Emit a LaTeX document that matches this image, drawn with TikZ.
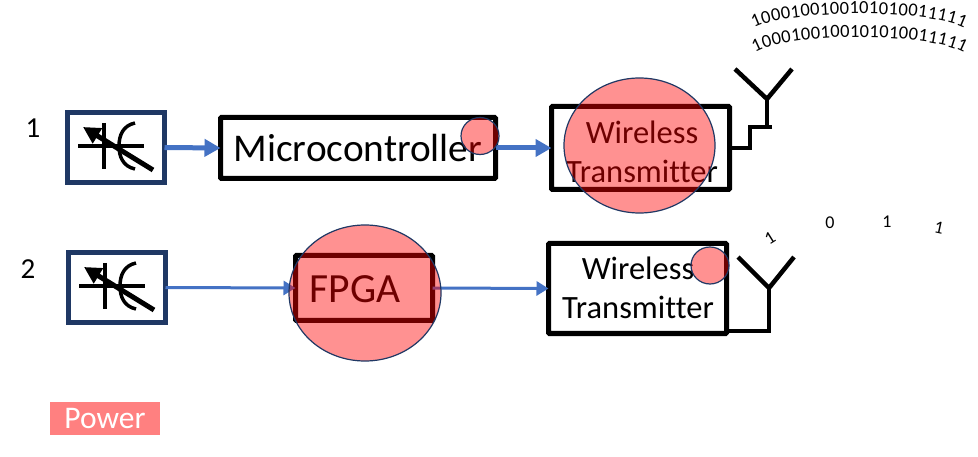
\documentclass[tikz,border=0pt]{standalone}
\usepackage{fontspec}
\setmainfont[Ligatures=NoCommon]{Carlito}
\usetikzlibrary{arrows.meta,decorations.text,shapes.geometric}
\definecolor{navybox}{HTML}{1F3864}
\definecolor{bluearrow}{HTML}{4472C4}
\definecolor{circleedge}{HTML}{203864}
\definecolor{powerred}{HTML}{FF8080}
\newcommand{\fs}[1]{\fontsize{#1}{#1}\selectfont}
\tikzset{
  x=1pt,y=-1pt,
  blockbox/.style={draw=black,line width=5pt,rounded corners=1pt,outer sep=0pt,inner sep=0pt,align=center},
  capbox/.style={draw=navybox,line width=5pt,fill=white,outer sep=0pt,inner sep=0pt,minimum width=97pt,minimum height=70pt},
  thickflow/.style={draw=bluearrow,line width=5pt,-{Triangle[length=16pt,width=17pt]}},
  thinflow/.style={draw=bluearrow,line width=3pt,-{Triangle[length=12pt,width=14pt]}},
  wirepath/.style={draw=black,line width=4.5pt,line join=miter},
  powerblob/.style={draw=circleedge,line width=1.2pt,fill=red,fill opacity=0.43,draw opacity=1,ellipse,inner sep=0pt},
  varcap/.pic={
    \draw[line width=3.5pt] (-38,-1.5) -- (28,-1.5);
    \draw[line width=3.5pt] (-12,-24.5) -- (-12,21.5);
    \draw[line width=3.5pt] (19,-24.5) .. controls (7,-22) and (3,-12) .. (3,-1.5) .. controls (3,9) and (7,19) .. (19,21.5);
    \draw[line width=5pt,-{Triangle[length=17pt,width=17pt]}] (37,22.5) -- (-33,-20.5);
  },
  bits/.style={decorate,decoration={text along path,text align={fit to path},text={|\fs{18.5}|#1}}},
  wtlabel/.style={align=center,font=\fs{32.5}},
}
\begin{document}
\begin{tikzpicture}
\useasboundingbox (0,0) rectangle (978,457);
\fill[white] (0,0) rectangle (978,457);

% row labels
\node (n1) at (33,128) {\fs{29}1};
\node (n2) at (28,269) {\fs{29}2};

% sources
\node[capbox] (cap1) at (116,147.5) {};
\node[capbox] (cap2) at (117,287.5) {};
\pic at (cap1.center) {varcap};
\pic at (cap2.center) {varcap};

% blocks
\node[blockbox,minimum width=275pt,minimum height=61pt] (mc) at (358,148) {};
\node (mctext) at (358,148) {\fs{39.3}Microcontroller};
\node[blockbox,minimum width=178pt,minimum height=83pt] (wt1) at (640.5,148) {};
\node[wtlabel] (wt1text) at (642,152) {Wireless\\[6.5pt]Transmitter};
\node[blockbox,minimum width=137pt,minimum height=65pt] (fpga) at (364,288) {};
\node (fpgatext) at (355,289) {\fs{41.5}FPGA};
\node[blockbox,minimum width=178pt,minimum height=90pt] (wt2) at (637.5,288.5) {};
\node[wtlabel] (wt2text) at (638,288) {Wireless\\[6.5pt]Transmitter};

% flows
\draw[thickflow] (cap1.east) -- (mc.west);
\draw[thickflow] (mc.east) -- (wt1.west);
\draw[thinflow] (cap2.east) -- (fpga.west);
\draw[thinflow] (fpga.east) -- (wt2.west);

% antennas
\coordinate (a1) at (767,99);
\coordinate (a1l) at (735,69);
\coordinate (a1r) at (792,69);
\coordinate (s1) at (772,127);
\coordinate (s2) at (750,127);
\coordinate (s3) at (750,148);
\draw[wirepath] (a1l) -- (a1) -- (a1r);
\draw[wirepath] (a1) -- (767,127);
\draw[wirepath] (s1) -- (s2) -- (s3) -- (wt1.east);
\coordinate (a2) at (769,288);
\coordinate (a2l) at (738,257);
\coordinate (a2r) at (794,257);
\coordinate (s4) at (769,331);
\draw[wirepath] (a2l) -- (a2) -- (a2r);
\draw[wirepath] (a2) -- (s4) -- (wt2.south east |- s4);

% power overlays
\node[powerblob,minimum width=151pt,minimum height=135pt] (pw1) at (639.5,145.5) {};
\node[powerblob,minimum width=38pt,minimum height=37pt] (pm) at (480,136) {};
\node[powerblob,minimum width=152pt,minimum height=136pt] (pf) at (365,293) {};
\node[powerblob,minimum width=38pt,minimum height=37pt] (pw2) at (710,265.5) {};

% bit streams
\path[bits={1000100100101010011111}] (754,28) .. controls (790,9) and (928,9) .. (964,28);
\path[bits={1000100100101010011111}] (755,53) .. controls (790,32) and (928,32) .. (964,53);
\node[rotate=32] (b1) at (770,238) {\fs{18}1};
\node (b2) at (830,223) {\fs{18}0};
\node (b3) at (887,222) {\fs{18}1};
\node[rotate=-12] (b4) at (939,228) {\fs{18}1};

% legend
\node[fill=powerred,minimum width=110pt,minimum height=33pt,inner sep=0pt,text=white] (legend) at (105,418.5) {\fs{31.5}Power};
\end{tikzpicture}
\end{document}
